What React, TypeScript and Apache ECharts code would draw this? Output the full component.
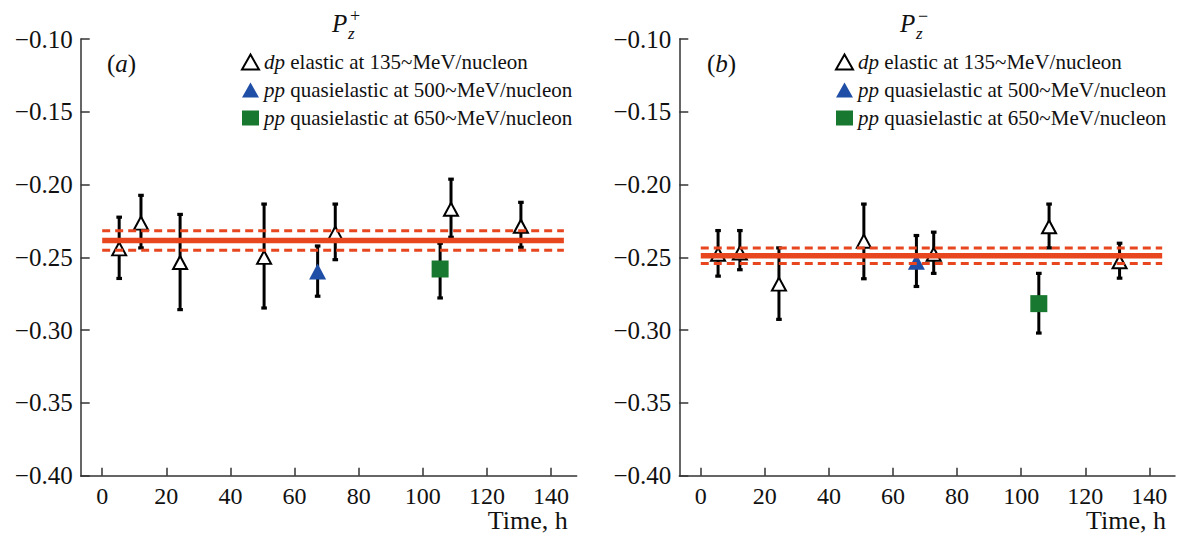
import React, { useEffect, useRef } from "react";
import * as echarts from "echarts";

// ---------- data ----------
const xTicks = [0, 20, 40, 60, 80, 100, 120, 140];
const yTicks = [-0.4, -0.35, -0.3, -0.25, -0.2, -0.15, -0.1];

const seriesNames = [
  "dp elastic at 135~MeV/nucleon",
  "pp quasielastic at 500~MeV/nucleon",
  "pp quasielastic at 650~MeV/nucleon",
];

// panel (a)  P_z^+
const dpTimeA = [5.3, 12.1, 24.3, 50.5, 72.7, 108.8, 130.6];
const dpValA = [-0.2442, -0.2265, -0.2535, -0.25, -0.2334, -0.217, -0.2286];
const dpLowA = [-0.2645, -0.2435, -0.2859, -0.2848, -0.2516, -0.2362, -0.2431];
const dpHighA = [-0.2224, -0.2074, -0.2205, -0.2134, -0.2134, -0.1963, -0.2122];
const pp500TimeA = [67.2];
const pp500ValA = [-0.2597];
const pp500LowA = [-0.2767];
const pp500HighA = [-0.2422];
const pp650TimeA = [105.4];
const pp650ValA = [-0.258];
const pp650LowA = [-0.2779];
const pp650HighA = [-0.2403];
const meanA = -0.2385;
const meanErrA = 0.0067;

// panel (b)  P_z^-
const dpTimeB = [5.4, 12.2, 24.4, 50.9, 72.7, 108.7, 130.7];
const dpValB = [-0.2479, -0.247, -0.2684, -0.2389, -0.2479, -0.229, -0.253];
const dpLowB = [-0.2629, -0.2585, -0.2926, -0.2647, -0.261, -0.2435, -0.2643];
const dpHighB = [-0.2316, -0.2316, -0.2435, -0.2134, -0.2327, -0.2134, -0.2403];
const pp500TimeB = [67.3];
const pp500ValB = [-0.253];
const pp500LowB = [-0.27];
const pp500HighB = [-0.235];
const pp650TimeB = [105.5];
const pp650ValB = [-0.2818];
const pp650LowB = [-0.302];
const pp650HighB = [-0.261];
const meanB = -0.2489;
const meanErrB = 0.0053;

const bandStart = 0;
const bandEnd = 144;

// ---------- styles ----------
const FONT = '"Liberation Serif", "DejaVu Serif", serif';
const RED = "#e8461f";
const BLUE = "#1f4ea6";
const GREEN = "#19782f";
const AXIS = "#333";

const zip = (t: number[], v: number[]) => t.map((x, i) => [x, v[i]]);
const zip3 = (t: number[], lo: number[], hi: number[]) =>
  t.map((x, i) => [x, lo[i], hi[i]]);

const fmtY = (v: number) => v.toFixed(2).replace("-", "\u2212");

function errorBarSeries(data: number[][], idx: number) {
  return {
    type: "custom",
    xAxisIndex: idx,
    yAxisIndex: idx,
    z: 1,
    silent: true,
    data,
    encode: { x: 0, y: [1, 2] },
    renderItem: (params: any, api: any) => {
      const x = api.value(0);
      const lo = api.coord([x, api.value(1)]);
      const hi = api.coord([x, api.value(2)]);
      const cw = 2.8;
      return {
        type: "group",
        children: [
          {
            type: "line",
            shape: { x1: lo[0], y1: lo[1], x2: hi[0], y2: hi[1] },
            style: { stroke: "#000", lineWidth: 3 },
          },
          {
            type: "rect",
            shape: { x: lo[0] - cw, y: lo[1] - 1.6, width: cw * 2, height: 3.2 },
            style: { fill: "#000" },
          },
          {
            type: "rect",
            shape: { x: hi[0] - cw, y: hi[1] - 1.6, width: cw * 2, height: 3.2 },
            style: { fill: "#000" },
          },
        ],
      };
    },
  };
}

function bandSeries(mean: number, err: number, idx: number) {
  const mk = (v: number, dashed: boolean) => ({
    type: "line",
    xAxisIndex: idx,
    yAxisIndex: idx,
    z: 5,
    silent: true,
    symbol: "none",
    data: [
      [bandStart, v],
      [bandEnd, v],
    ],
    lineStyle: dashed
      ? { color: RED, width: 3, type: [8, 5] }
      : { color: RED, width: 5.5 },
  });
  return [mk(mean, false), mk(mean + err, true), mk(mean - err, true)];
}

function panelSeries(
  idx: number,
  dpT: number[], dpV: number[], dpL: number[], dpH: number[],
  p5T: number[], p5V: number[], p5L: number[], p5H: number[],
  p6T: number[], p6V: number[], p6L: number[], p6H: number[],
  mean: number, err: number
) {
  return [
    errorBarSeries(zip3(dpT, dpL, dpH), idx),
    errorBarSeries(zip3(p5T, p5L, p5H), idx),
    errorBarSeries(zip3(p6T, p6L, p6H), idx),
    {
      name: seriesNames[0],
      type: "scatter",
      xAxisIndex: idx,
      yAxisIndex: idx,
      z: 3,
      symbol: "triangle",
      symbolSize: [14, 13],
      itemStyle: { color: "#fff", borderColor: "#000", borderWidth: 2, opacity: 1 },
      data: zip(dpT, dpV),
    },
    {
      name: seriesNames[1],
      type: "scatter",
      xAxisIndex: idx,
      yAxisIndex: idx,
      z: 3,
      symbol: "triangle",
      symbolSize: [17, 16],
      itemStyle: { color: BLUE, opacity: 1 },
      data: zip(p5T, p5V),
    },
    {
      name: seriesNames[2],
      type: "scatter",
      xAxisIndex: idx,
      yAxisIndex: idx,
      z: 3,
      symbol: "rect",
      symbolSize: [17, 17],
      itemStyle: { color: GREEN, opacity: 1 },
      data: zip(p6T, p6V),
    },
    ...bandSeries(mean, err, idx),
  ];
}

const xAxisBase = (idx: number) => ({
  type: "value",
  gridIndex: idx,
  min: -6.7,
  max: 148,
  axisLine: { show: true, onZero: false, lineStyle: { color: AXIS, width: 1.5 } },
  axisTick: {
    show: true,
    inside: true,
    length: 8,
    customValues: xTicks,
    lineStyle: { color: AXIS, width: 1.5 },
  },
  axisLabel: {
    customValues: xTicks,
    color: "#111",
    fontFamily: FONT,
    fontSize: 24,
    margin: 8,
  },
  splitLine: { show: false },
  name: "Time, h",
  nameLocation: "end",
  nameGap: -9,
  nameTextStyle: {
    color: "#111",
    fontFamily: FONT,
    fontSize: 26,
    align: "right",
    verticalAlign: "top",
    padding: [32, 0, 0, 0],
  },
});

const yAxisBase = (idx: number) => ({
  type: "value",
  gridIndex: idx,
  min: -0.4,
  max: -0.1,
  interval: 0.05,
  axisLine: { show: true, onZero: false, lineStyle: { color: AXIS, width: 1.5 } },
  axisTick: { show: true, inside: true, length: 9, lineStyle: { color: AXIS, width: 1.5 } },
  axisLabel: {
    color: "#111",
    fontFamily: FONT,
    fontSize: 25,
    margin: 8,
    formatter: (v: number) => fmtY(v),
    customValues: yTicks,
  },
  splitLine: { show: false },
});

const legendBase = (left: number) => ({
  left,
  top: 46,
  orient: "vertical",
  selectedMode: false,
  data: seriesNames,
  itemWidth: 17,
  itemHeight: 15,
  itemGap: 6,
  textStyle: {
    color: "#111",
    fontFamily: FONT,
    fontSize: 21,
    lineHeight: 22,
    rich: {
      i: { fontStyle: "italic", fontFamily: FONT, fontSize: 21, color: "#111" },
    },
  },
  formatter: (name: string) => {
    const parts = name.split(" ");
    return `{i|${parts[0]}} ${parts.slice(1).join(" ")}`;
  },
});

function titleGraphic(x: number, sign: string) {
  return [
    {
      type: "text",
      left: x,
      top: 11,
      style: { text: "P", font: `italic 25px ${FONT}`, fill: "#111" },
    },
    {
      type: "text",
      left: x + 18,
      top: 7,
      style: { text: sign, font: `18px ${FONT}`, fill: "#111" },
    },
    {
      type: "text",
      left: x + 16,
      top: 25,
      style: { text: "z", font: `italic 17px ${FONT}`, fill: "#111" },
    },
  ];
}

function labelGraphic(x: number, letter: string) {
  return {
    type: "text",
    left: x,
    top: 51,
    style: {
      text: `({i|${letter}})`,
      font: `25px ${FONT}`,
      fill: "#111",
      rich: { i: { fontStyle: "italic", fontFamily: FONT, fontSize: 25, fill: "#111" } },
    },
  };
}

export default function App() {
  const ref = useRef<HTMLDivElement>(null);
  useEffect(() => {
    if (!ref.current) return;
    const chart = echarts.init(ref.current, undefined, { renderer: "svg" });
    chart.setOption({
      animation: false,
      backgroundColor: "#fff",
      grid: [
        { left: 80.7, top: 39, width: 496, height: 436.7, outerBoundsMode: "none" },
        { left: 679.3, top: 39, width: 495.7, height: 436.7, outerBoundsMode: "none" },
      ],
      xAxis: [xAxisBase(0), xAxisBase(1)],
      yAxis: [yAxisBase(0), yAxisBase(1)],
      legend: [legendBase(236), legendBase(830)],
      graphic: [
        ...titleGraphic(332, "+"),
        ...titleGraphic(900, "\u2212"),
        labelGraphic(107, "a"),
        labelGraphic(707, "b"),
      ],
      series: [
        ...panelSeries(
          0,
          dpTimeA, dpValA, dpLowA, dpHighA,
          pp500TimeA, pp500ValA, pp500LowA, pp500HighA,
          pp650TimeA, pp650ValA, pp650LowA, pp650HighA,
          meanA, meanErrA
        ),
        ...panelSeries(
          1,
          dpTimeB, dpValB, dpLowB, dpHighB,
          pp500TimeB, pp500ValB, pp500LowB, pp500HighB,
          pp650TimeB, pp650ValB, pp650LowB, pp650HighB,
          meanB, meanErrB
        ),
      ],
    });
    return () => chart.dispose();
  }, []);
  return (
    <div
      ref={ref}
      style={{ position: "absolute", left: 0, top: 0, width: 1185, height: 539 }}
    />
  );
}
